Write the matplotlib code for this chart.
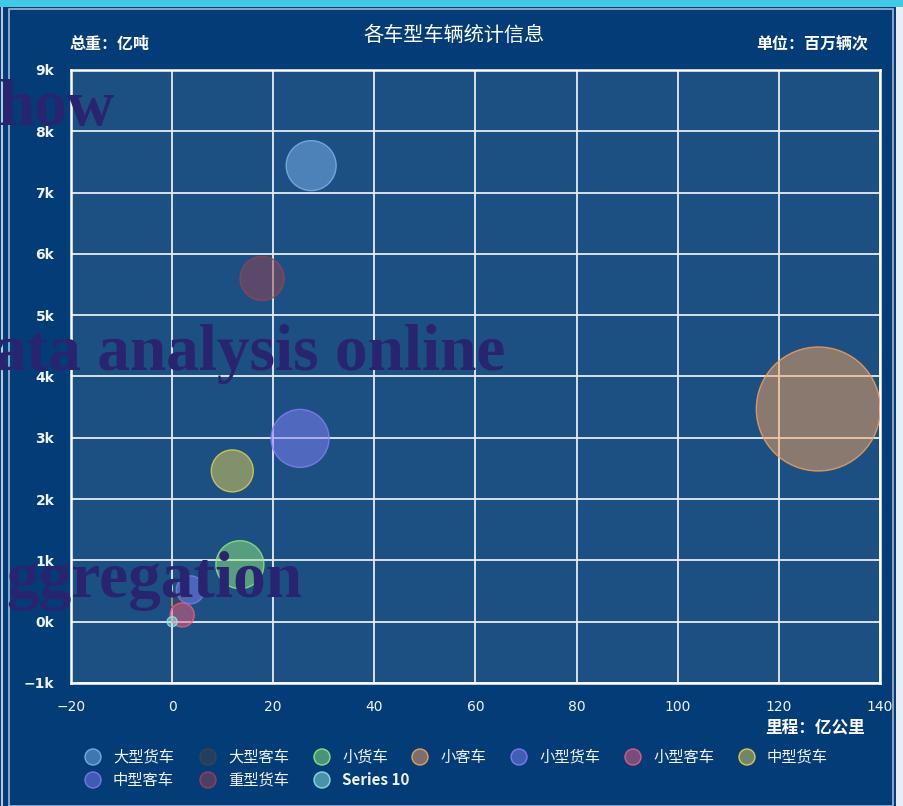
import matplotlib
matplotlib.use("Agg")
import matplotlib.pyplot as plt
from matplotlib.patches import Rectangle, Circle
from matplotlib.ticker import FuncFormatter

plt.rcParams['font.family'] = ['Noto Sans CJK SC', 'DejaVu Sans']

# ---- data ----
series_names = ['大型货车', '大型客车', '小货车', '小客车', '小型货车',
                '小型客车', '中型货车', '中型客车', '重型货车', 'Series 10']
mileage = [27.5, 1.0, 13.4, 127.8, 25.3, 2.0, 11.9, 3.6, 17.8, 0.0]       # 亿公里
trips = [7440, 330, 930, 3470, 2990, 110, 2460, 520, 5600, 0]             # 百万辆次
weight = [625, 64, 576, 3844, 841, 144, 441, 196, 484, 25]                 # 总重 (bubble area)
colors = ['#7cb5ec', '#434348', '#90ed7d', '#f7a35c', '#8480f8',
          '#f15c80', '#e4d354', '#7c7cf0', '#984451', '#91e8e1']

title = '各车型车辆统计信息'
x_ticks = [-20, 0, 20, 40, 60, 80, 100, 120, 140]
y_ticks = [-1000, 0, 1000, 2000, 3000, 4000, 5000, 6000, 7000, 8000, 9000]

W, H, DPI = 904, 806, 100
fig = plt.figure(figsize=(W / DPI, H / DPI), dpi=DPI)
fig.patch.set_facecolor('#043c78')

def fx(px):
    return px / W

def fy(py):
    return 1 - py / H

# page frame pieces
fig.add_artist(Rectangle((0, fy(7)), 1, 7 / H, transform=fig.transFigure,
                         facecolor='#41c9e8', edgecolor='none', zorder=0))
fig.add_artist(Rectangle((fx(896), 0), 1 - fx(896), fy(7), transform=fig.transFigure,
                         facecolor='#e6eef8', edgecolor='none', zorder=0))
fig.add_artist(Rectangle((fx(9), 0), fx(893) - fx(9), fy(9), transform=fig.transFigure,
                         facecolor='none', edgecolor='#9fb8d4', lw=1.2, zorder=1))
fig.add_artist(Rectangle((fx(1), 0), 2 / W, fy(7), transform=fig.transFigure,
                         facecolor='#b8c8dc', edgecolor='none', zorder=1))

ax = fig.add_axes([fx(71), fy(683), fx(880) - fx(71), fy(70) - fy(683)])
ax.set_facecolor('#1c5083')
ax.set_xlim(-20, 140)
ax.set_ylim(-1000, 9000)
ax.set_xticks(x_ticks)
ax.set_yticks(y_ticks)
ax.yaxis.set_major_formatter(FuncFormatter(
    lambda v, p: ('−' if v < 0 else '') + f'{abs(int(round(v / 1000)))}k'))
ax.xaxis.set_major_formatter(FuncFormatter(
    lambda v, p: ('−' if v < 0 else '') + f'{abs(int(v))}'))
ax.grid(True, color='#e6ecf4', lw=1.3, zorder=0)
ax.set_axisbelow(True)
for s in ax.spines.values():
    s.set_color('#ffffff')
    s.set_linewidth(1.8)
ax.tick_params(length=0, colors='#eef3f8', labelsize=10)
ax.tick_params(axis='y', pad=12)
ax.tick_params(axis='x', pad=12)
for lab in ax.get_yticklabels():
    lab.set_fontweight('bold')
    lab.set_family(['DejaVu Sans'])
for lab in ax.get_xticklabels():
    lab.set_family(['DejaVu Sans'])

# bubbles
for i, name in enumerate(series_names):
    r_pt = (weight[i] ** 0.5) * 2 * 0.72
    ax.scatter([mileage[i]], [trips[i]], s=r_pt ** 2, color=colors[i], alpha=0.5,
               edgecolors='none', zorder=3 + i)
    ax.scatter([mileage[i]], [trips[i]], s=r_pt ** 2, facecolors='none',
               edgecolors=colors[i], linewidths=1.0, alpha=0.8, zorder=3 + i)

# titles
fig.text(0.502, fy(35), title, ha='center', va='center', color='white', fontsize=14.5)
fig.text(fx(70), fy(44), '总重：亿吨', ha='left', va='center', color='white',
         fontsize=11.5, fontweight='bold')
fig.text(fx(868), fy(44), '单位：百万辆次', ha='right', va='center', color='white',
         fontsize=11.5, fontweight='bold')
fig.text(fx(865), fy(728), '里程：亿公里', ha='right', va='center', color='white',
         fontsize=12, fontweight='bold')

# legend
leg_x = [93, 208, 322, 420, 519, 633, 747, 93, 208, 322]
leg_y = [757, 757, 757, 757, 757, 757, 757, 780, 780, 780]
bg = (0x04 / 255, 0x3c / 255, 0x78 / 255)
for i, name in enumerate(series_names):
    cy = fy(leg_y[i])
    c = matplotlib.colors.to_rgb(colors[i])
    fill = tuple(0.55 * c[k] + 0.45 * bg[k] for k in range(3))
    fig.add_artist(Circle((leg_x[i], H - leg_y[i]), 8, transform=None,
                          facecolor=fill, edgecolor=colors[i], lw=1.0, alpha=0.9))
    fig.text(fx(leg_x[i] + 20), cy, name, ha='left', va='center', color='#eef3f8',
             fontsize=11, fontweight='bold' if name.startswith('Series') else 'normal')

# overlay watermark text
wm = dict(color='#29246f', fontsize=47, fontweight='bold',
          family=['Liberation Serif'], ha='left', va='baseline', zorder=20)
fig.text(fx(-2), fy(125), 'how', **wm)
fig.text(fx(-6), fy(370), 'ata analysis online', **wm)
fig.text(fx(6), fy(597), 'ggregation', **wm)

fig.savefig('out.png', dpi=DPI, facecolor=fig.get_facecolor())
